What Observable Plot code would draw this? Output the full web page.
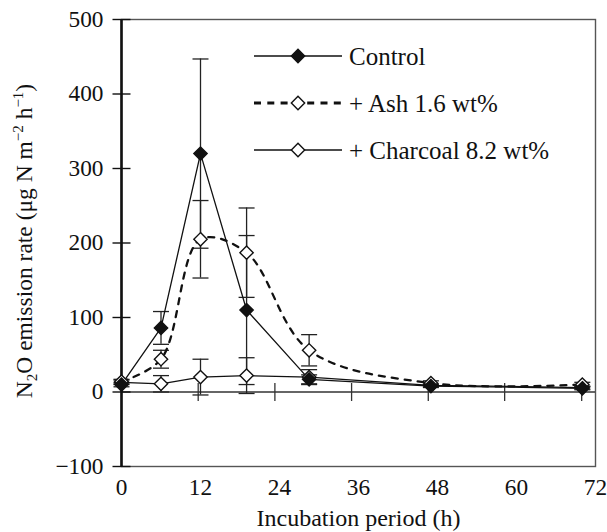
<!DOCTYPE html>
<html><head><meta charset="utf-8">
<script src="https://cdn.jsdelivr.net/npm/d3@7"></script>
<script src="https://cdn.jsdelivr.net/npm/@observablehq/plot@0.6"></script>
<style>body{margin:0;background:#fff} svg{display:block} svg text{font-family:"Liberation Serif","Times New Roman",serif !important;}</style>
</head><body><div id="chart"></div>
<script>
// ---- data ----
const hours        = [0, 6, 12, 19, 28.5, 47, 70];
const control      = [10, 86, 320, 110, 17, 8, 5];
const controlErr   = [3, 22, 127, 100, 6, 2, 2];
const ash          = [14, 44, 205, 187, 56, 12, 10];
const ashErr       = [3, 12, 52, 60, 21, 3, 3];
const charcoal     = [13, 11, 20, 22, 20, 9, 6];
const charcoalErr  = [3, 11, 24, 24, 10, 2, 2];
const seriesNames  = ["Control", "+ Ash 1.6 wt%", "+ Charcoal 8.2 wt%"];
const xTicks = [0, 12, 24, 36, 48, 60, 72];
const yTicks = [-100, 0, 100, 200, 300, 400, 500];
const zeroLineTicks = [11.65, 23.3, 34.95, 46.6, 58.2, 69.9];

const toRows = (vals, errs, name) => hours.map((h, i) => ({h, v: vals[i], e: errs[i], name}));
const controlRows = toRows(control, controlErr, seriesNames[0]);
const ashRows = toRows(ash, ashErr, seriesNames[1]);
const charcoalRows = toRows(charcoal, charcoalErr, seriesNames[2]);
const allRows = [...controlRows, ...ashRows, ...charcoalRows];

const hTick = half => ({draw(ctx) { ctx.moveTo(-half, 0); ctx.lineTo(half, 0); }});
const vTick = half => ({draw(ctx) { ctx.moveTo(0, -half); ctx.lineTo(0, half); }});
const FONT = '"Liberation Serif", "Times New Roman", serif';
const FS = 23.3, FS_X = 24, FS_Y = 23.5, FS_L = 25;

const chart = Plot.plot({
  width: 607, height: 532,
  marginLeft: 121, marginRight: 12, marginTop: 19, marginBottom: 66,
  style: {fontFamily: FONT, fontSize: FS + "px", color: "#111", background: "white"},
  x: {domain: [0, 72]},
  y: {domain: [-100, 500]},
  marks: [
    Plot.frame({stroke: "#555", strokeWidth: 1.4}),
    Plot.ruleY([0], {stroke: "#333", strokeWidth: 1.3}),
    Plot.dot(zeroLineTicks, {x: d => d, y: () => 0, symbol: vTick(9), stroke: "#333", strokeWidth: 1.3}),
    Plot.ruleX([0], {stroke: "#111", strokeWidth: 2.6}),
    Plot.dot(yTicks, {x: () => 0, y: d => d, symbol: hTick(9), stroke: "#111", strokeWidth: 1.4}),
    Plot.axisY({ticks: yTicks, tickSize: 0, tickPadding: 18, label: null, fontSize: FS,
      tickFormat: d => d < 0 ? "\u2212" + Math.abs(d) : String(d)}),
    Plot.axisX({ticks: xTicks, tickSize: 0, tickPadding: 12, label: null, fontSize: FS}),
    Plot.text(["Incubation period (h)"], {frameAnchor: "bottom", dy: 59, fontSize: FS_X}),
    // error bars
    Plot.ruleX(allRows, {x: "h", y1: d => d.v - d.e, y2: d => d.v + d.e, stroke: "#222", strokeWidth: 1.3}),
    Plot.dot(allRows, {x: "h", y: d => d.v + d.e, symbol: hTick(8), stroke: "#222", strokeWidth: 1.3}),
    Plot.dot(allRows, {x: "h", y: d => d.v - d.e, symbol: hTick(8), stroke: "#222", strokeWidth: 1.3}),
    // lines
    Plot.line(charcoalRows, {x: "h", y: "v", stroke: "#111", strokeWidth: 1.3}),
    Plot.line(controlRows, {x: "h", y: "v", stroke: "#111", strokeWidth: 1.3}),
    Plot.line(ashRows, {x: "h", y: "v", stroke: "#111", strokeWidth: 2.3, strokeDasharray: "6,7", curve: "catmull-rom"}),
    // markers
    Plot.dot(charcoalRows, {x: "h", y: "v", symbol: "diamond2", r: 6, fill: "white", stroke: "#111", strokeWidth: 1.4}),
    Plot.dot(ashRows, {x: "h", y: "v", symbol: "diamond2", r: 6, fill: "white", stroke: "#111", strokeWidth: 1.4}),
    Plot.dot(controlRows, {x: "h", y: "v", symbol: "diamond2", r: 6, fill: "#111", stroke: "#111", strokeWidth: 1.4})
  ]
});
document.getElementById("chart").appendChild(chart);

const svg = d3.select(chart);
// y-axis title with sub/superscripts
const yt = svg.append("text")
  .attr("transform", "translate(32,241) rotate(-90)")
  .attr("text-anchor", "middle")
  .attr("font-size", FS_Y).attr("fill", "#111");
yt.append("tspan").text("N");
yt.append("tspan").attr("dy", 5).attr("font-size", 15).text("2");
yt.append("tspan").attr("dy", -5).text("O emission rate (\u03bcg N m");
yt.append("tspan").attr("dy", -9).attr("font-size", 15).text("\u22122");
yt.append("tspan").attr("dy", 9).text(" h");
yt.append("tspan").attr("dy", -9).attr("font-size", 15).text("\u22121");
yt.append("tspan").attr("dy", 9).text(")");

// legend
const lg = svg.append("g").attr("font-size", FS_L)
  .attr("fill", "#111").attr("text-anchor", "start");
const legendItems = [
  {name: seriesNames[0], dash: null, fill: "#111", sw: 1.3},
  {name: seriesNames[1], dash: "7,6.3", fill: "white", sw: 3},
  {name: seriesNames[2], dash: null, fill: "white", sw: 1.3}
];
const diamond = d3.symbol(d3.symbolDiamond2, 6 * 6 * Math.PI)();
legendItems.forEach((it, i) => {
  const y = 56 + i * 47;
  lg.append("line").attr("x1", 254).attr("x2", 342).attr("y1", y).attr("y2", y)
    .attr("stroke", "#111").attr("stroke-width", it.sw).attr("stroke-dasharray", it.dash);
  lg.append("path").attr("d", diamond).attr("transform", `translate(298,${y})`)
    .attr("fill", it.fill).attr("stroke", "#111").attr("stroke-width", 1.4);
  lg.append("text").attr("x", 349).attr("y", y).attr("dy", "0.35em").attr("text-anchor", "start").text(it.name);
});
</script></body></html>
